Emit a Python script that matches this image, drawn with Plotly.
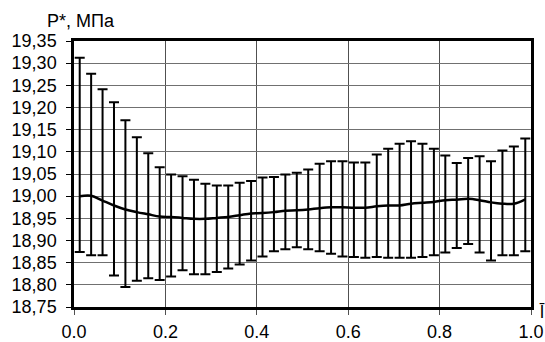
import plotly.graph_objects as go

x_pos = [0.0125, 0.0375, 0.0625, 0.0875, 0.1125, 0.1375, 0.1625, 0.1875, 0.2125, 0.2375,
         0.2625, 0.2875, 0.3125, 0.3375, 0.3625, 0.3875, 0.4125, 0.4375, 0.4625, 0.4875,
         0.5125, 0.5375, 0.5625, 0.5875, 0.6125, 0.6375, 0.6625, 0.6875, 0.7125, 0.7375,
         0.7625, 0.7875, 0.8125, 0.8375, 0.8625, 0.8875, 0.9125, 0.9375, 0.9625, 0.9875]

mean_p = [19.000, 19.001, 18.990, 18.979, 18.970, 18.964, 18.959, 18.954, 18.953, 18.951,
          18.949, 18.949, 18.951, 18.953, 18.957, 18.961, 18.962, 18.964, 18.967, 18.968,
          18.970, 18.973, 18.975, 18.975, 18.974, 18.974, 18.977, 18.979, 18.979, 18.983,
          18.985, 18.987, 18.991, 18.992, 18.994, 18.991, 18.986, 18.983, 18.983, 18.993]

upper_p = [19.312, 19.276, 19.241, 19.212, 19.171, 19.133, 19.097, 19.065, 19.049, 19.045,
           19.037, 19.028, 19.024, 19.024, 19.030, 19.034, 19.042, 19.043, 19.049, 19.053,
           19.060, 19.073, 19.079, 19.079, 19.076, 19.076, 19.094, 19.107, 19.118, 19.124,
           19.118, 19.107, 19.092, 19.075, 19.086, 19.090, 19.079, 19.103, 19.112, 19.130]

lower_p = [18.874, 18.867, 18.867, 18.821, 18.795, 18.809, 18.815, 18.811, 18.819, 18.833,
           18.824, 18.824, 18.829, 18.837, 18.846, 18.855, 18.864, 18.876, 18.880, 18.885,
           18.880, 18.876, 18.870, 18.864, 18.863, 18.861, 18.863, 18.861, 18.861, 18.861,
           18.863, 18.867, 18.873, 18.883, 18.892, 18.873, 18.855, 18.867, 18.867, 18.876]

y_tickvals = [18.75, 18.80, 18.85, 18.90, 18.95, 19.00, 19.05, 19.10, 19.15, 19.20, 19.25, 19.30, 19.35]
y_ticktext = ["18,75", "18,80", "18,85", "18,90", "18,95", "19,00", "19,05", "19,10",
              "19,15", "19,20", "19,25", "19,30", "19,35"]
x_tickvals = [0.0, 0.2, 0.4, 0.6, 0.8, 1.0]
x_ticktext = ["0.0", "0.2", "0.4", "0.6", "0.8", "1.0"]

err_plus = [u - m for u, m in zip(upper_p, mean_p)]
err_minus = [m - l for m, l in zip(mean_p, lower_p)]

FONT = "Liberation Sans, Arial, sans-serif"

fig = go.Figure()
fig.add_trace(go.Scatter(
    x=x_pos, y=mean_p, mode="lines",
    line=dict(color="black", width=2.5, shape="spline", smoothing=1.0),
    error_y=dict(type="data", symmetric=False, array=err_plus, arrayminus=err_minus,
                 color="black", thickness=2, width=5),
    showlegend=False, hoverinfo="skip",
))

fig.update_layout(
    width=545, height=342,
    margin=dict(l=74, r=14, t=41, b=35),
    paper_bgcolor="white", plot_bgcolor="white",
    font=dict(family=FONT, size=18, color="black"),
    xaxis=dict(range=[0, 1], tickvals=x_tickvals, ticktext=x_ticktext,
               showgrid=True, gridcolor="#505050", gridwidth=1,
               showline=True, linecolor="black", linewidth=2.5, mirror=True,
               ticks="outside", ticklen=5, tickcolor="#505050", tickwidth=1,
               ticklabelstandoff=2, zeroline=False, automargin=False),
    yaxis=dict(range=[18.75, 19.35], tickvals=y_tickvals, ticktext=y_ticktext,
               showgrid=True, gridcolor="#707070", gridwidth=1,
               showline=True, linecolor="black", linewidth=2.5, mirror=True,
               ticks="outside", ticklen=5, tickcolor="black", tickwidth=1,
               ticklabelstandoff=6, zeroline=False, automargin=False),
    annotations=[
        dict(text="P*, МПа", xref="paper", yref="paper", x=-0.0635, y=1.075,
             xanchor="left", yanchor="middle", showarrow=False,
             font=dict(family=FONT, size=18, color="black")),
        dict(text="l\u0304", xref="paper", yref="paper", x=1.023, y=-0.02,
             xanchor="center", yanchor="middle", showarrow=False,
             font=dict(family=FONT, size=18, color="black")),
    ],
)

fig.write_html("out.html")
